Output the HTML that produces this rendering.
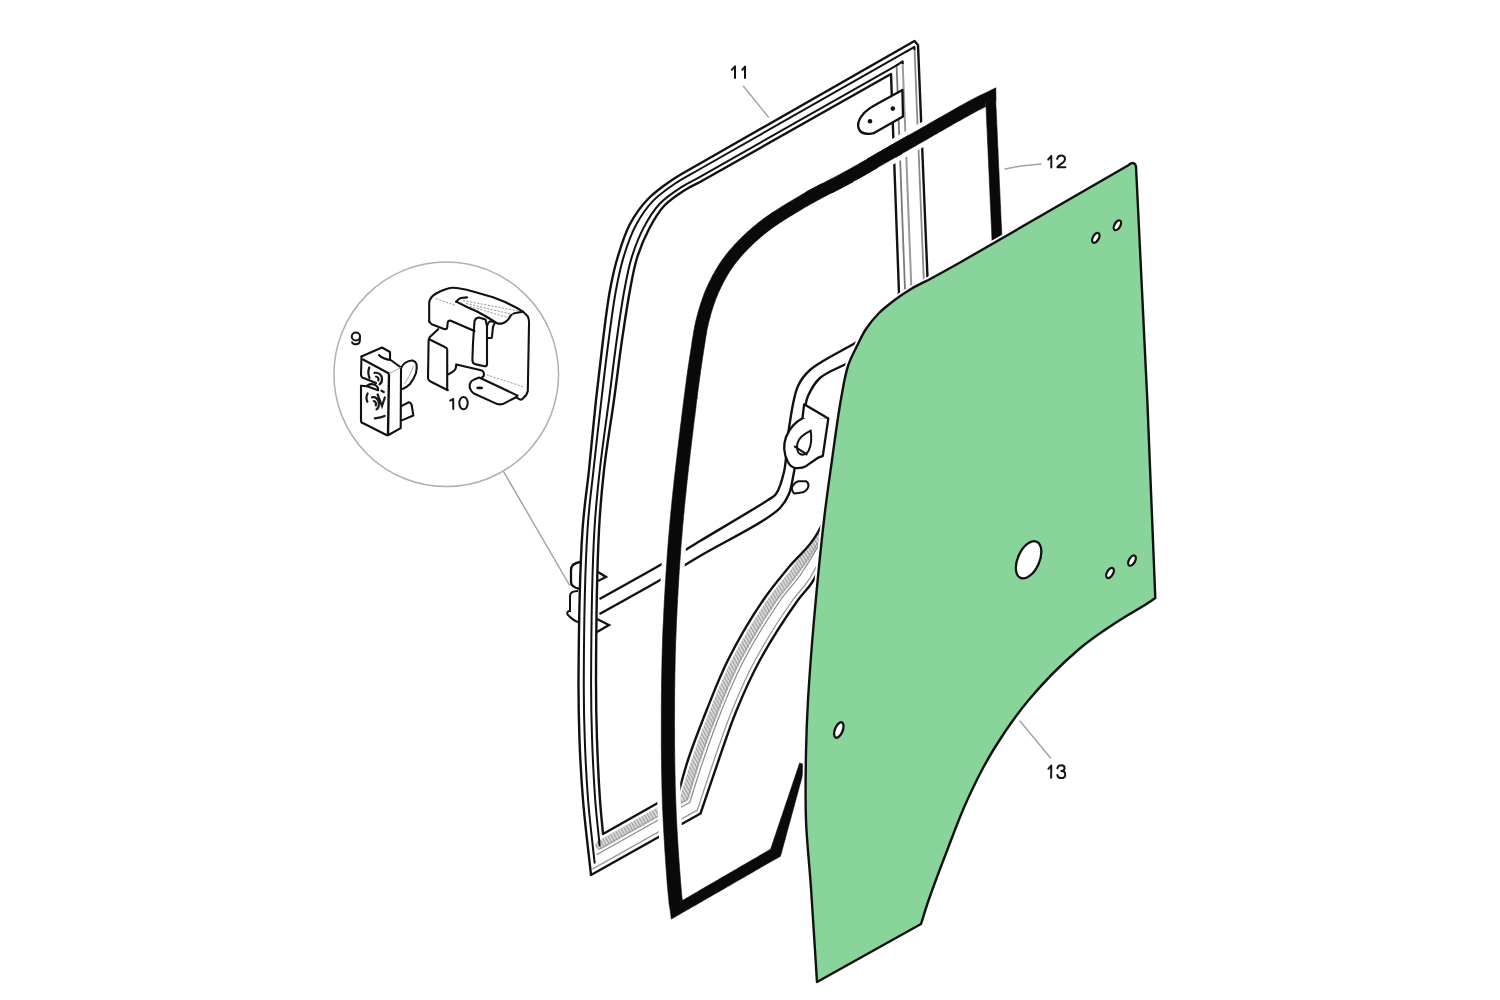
<!DOCTYPE html><html><head><meta charset="utf-8"><style>html,body{margin:0;padding:0;background:#fff;font-family:"Liberation Sans",sans-serif;}svg{display:block;}</style></head><body><svg width="1500" height="1000" viewBox="0 0 1500 1000"><defs><pattern id="hatch" patternUnits="userSpaceOnUse" width="3" height="3" patternTransform="rotate(-30)"><rect width="3" height="3" fill="#e2e2e2"/><rect width="1.3" height="3" fill="#9c9c9c"/></pattern></defs><rect width="1500" height="1000" fill="#fff"/><path d="M599.8,845.1 L684.8,797.1 C688.6,784.7 691.8,773.2 696.3,760 C701.6,744.5 708.1,726.6 714.8,710 C721.6,693.2 727.8,677.1 736.6,660 C746.7,640.6 761.6,616.2 772.7,600 C780.8,588.2 787.6,581.8 795.5,570.8 C805.1,557.4 816,544.1 825.9,524.8 C840.4,496.6 854.9,452.5 868.1,414.6 C881.9,375.1 893.9,333 906.8,292.2" fill="none" stroke="url(#hatch)" stroke-width="9" stroke-linejoin="round" stroke-linecap="round" /><path d="M598.4,849.6 L687.2,799.5 C691.3,786.4 694.9,773.9 699.7,760 C705.1,744.2 711.4,726.6 718.1,710 C724.9,693.2 731.2,677.1 740.2,660 C750.3,640.6 765.5,615.9 776.5,600 C784.3,588.7 790.6,583.2 798.1,572.3 C808,558.1 819.3,541.9 829.5,521.1 C843.9,492.1 858.2,449.8 871.4,412.4 C885.1,373.5 897.1,332 910,291.9" fill="none" stroke="#999" stroke-width="1.0" stroke-linejoin="round" stroke-linecap="round" /><path d="M597,854.5 L689.8,802.2 C694.3,788.2 698.3,774.6 703.4,760 C708.9,744 715,726.6 721.7,710 C728.5,693.2 735,677.1 744,660 C754.2,640.6 769.8,615.6 780.6,600 C788.1,589.3 793.8,584.7 801,574 C811.1,559 822.8,539.4 833.5,517 C847.6,487.3 861.9,446.8 875,410 C888.6,371.7 900.7,331 913.5,291.5" fill="none" stroke="#888" stroke-width="1.2" stroke-linejoin="round" stroke-linecap="round" /><path d="M592.8,868.9 L697.3,810.1 C702.9,793.4 708.3,776.7 714.1,760 C719.9,743.3 725.4,726.5 732.2,710 C739.1,693.2 745.9,677.1 755.2,660 C765.7,640.6 782.5,614.7 792.8,600 C799.2,591 803.4,588.5 809.4,578.9 C819.9,562.1 833.3,531.9 845,505.1 C858.7,474 872.6,438 885.5,403 C898.9,366.6 910.9,328 923.6,290.4" fill="none" stroke="#999" stroke-width="1.3" stroke-linejoin="round" stroke-linecap="round" /><path d="M924.2,290.4 L914.5,48.8" fill="none" stroke="#8a8a8a" stroke-width="1.8" stroke-linejoin="round" stroke-linecap="round" /><path d="M911.5,291.7 L902.6,61.5" fill="none" stroke="#9a9a9a" stroke-width="2.0" stroke-linejoin="round" stroke-linecap="round" /><path d="M905.1,292.4 L896.7,67.9" fill="none" stroke="#7a7a7a" stroke-width="1.8" stroke-linejoin="round" stroke-linecap="round" /><path d="M907.5,50.9 L700,169 C692,173.7 683.7,177.7 675.9,183 C667.9,188.4 659.5,194.1 652.8,201.1 C646.1,208.2 640.5,216.6 635.7,225.5 C630.7,235 627,245.9 623.7,256.6 C620.4,267.4 618.3,277.7 616,290 C613.2,304.9 611,322.6 608.7,340 C606.1,359.1 603.8,379.2 601.4,400 C598.8,422.4 595.9,447.6 593.5,470 C591.3,490.8 589,505.5 587.5,530 C585,568.7 583.9,641.3 583.8,680 C583.7,704.5 584,720 584.8,740 C585.5,760 586.5,779.8 588.1,800 C589.7,820.7 592.4,841.8 594.6,862.7" fill="none" stroke="#111" stroke-width="2.0" stroke-linejoin="round" stroke-linecap="round" /><path d="M897.6,64.8 L700,176.8 C693.8,180.3 687.7,183 681.4,187.2 C674.2,191.9 665.8,197.4 659.5,204 C653.2,210.8 648.2,219 643.7,227.6 C638.8,236.7 634.9,247.1 631.7,257.4 C628.4,267.9 626.7,277.9 624.4,290 C621.6,304.8 619.1,322.6 616.7,340 C614,359.1 611.7,379.2 609,400 C606,422.4 602.3,447.5 599.8,470 C597.5,490.7 595.8,505.5 594.4,530 C592.2,568.7 591.2,641.3 591.1,680 C591,704.5 591.4,720 592.1,740 C592.8,760 593.9,781.4 595.2,800 C596.4,816.2 598.2,830.3 599.6,845.5" fill="none" stroke="#111" stroke-width="2.0" stroke-linejoin="round" stroke-linecap="round" /><path d="M906,51.8 L914.4,46.8 L914.6,50 M896,65.8 L902.6,61.4 L902.8,64" fill="none" stroke="#111" stroke-width="2" stroke-linejoin="round"/><path d="M914.5,41 L700,163.5 C690.7,169 680.8,174 672,180 C663.5,185.8 655,191.7 648,199 C641,206.3 634.9,214.8 630,224 C624.8,233.7 621.3,245.1 618,256 C614.6,267.1 612.3,277.5 610,290 C607.2,305 605.2,322.6 603,340 C600.6,359.1 598.3,379.2 596,400 C593.6,422.4 591.3,447.6 589,470 C586.8,490.8 584.2,505.5 582.5,530 C579.9,568.7 578.7,641.3 578.5,680 C578.4,704.5 578.8,720 579.5,740 C580.2,760 581.3,778.9 583,800 C584.9,823.6 588.3,850 591,875 L700.5,813.5 C706.6,795.7 712.6,777.5 718.7,760 C724.6,743 729.9,726.5 736.7,710 C743.6,693.2 750.6,677.1 760,660 C770.6,640.6 787.9,614.2 798,600 C803.9,591.7 807.5,590 813,581 C823.5,563.8 837.8,528.6 850,500 C863.5,468.6 877.2,434.3 890,400 C903.3,364.4 915.3,326.7 928,290 L918,45 L914.5,41 Z" fill="none" stroke="#111" stroke-width="2.4" stroke-linejoin="round"/><path d="M891,74 L700,182 C695,184.7 690.3,186.6 685,190 C678.4,194.2 670,199.6 664,206 C657.9,212.5 653.4,220.7 649,229 C644.3,237.9 640.2,248 637,258 C633.8,268.3 632.2,278.1 630,290 C627.2,304.8 624.6,322.6 622,340 C619.2,359.1 616.9,379.2 614,400 C610.9,422.4 606.5,447.5 604,470 C601.7,490.7 600.3,505.5 599,530 C597,568.7 596.1,641.3 596,680 C596,704.5 596.3,720 597,740 C597.7,760 598.8,782.8 600,800 C600.9,812.9 602,822.7 603,834 L679,791 C682,780.7 684.2,771.5 688,760 C692.9,745.2 700.1,726.6 706.7,710 C713.4,693.3 719.4,677.1 728,660 C737.8,640.6 751.9,616.7 763.3,600 C772.1,587 780.1,577.9 789,567 C798,555.9 808,549.3 817,534 C832.2,508.2 846.6,459.2 860,420 C874,379 886,335.3 899,293 L891,74 L891,74 Z" fill="none" stroke="#111" stroke-width="2.4" stroke-linejoin="round"/><path d="M599.5,599 C620.3,587.3 643.8,574.6 662,564 C676.3,555.7 685.5,549.8 700,541 C719.4,529.3 756.5,507.7 768,500 C772.1,497.3 773.7,497.1 776,494 C779.5,489.3 781.9,480.7 784,472 C786.8,460 786.6,442.4 789,428 C791.3,413.8 793.3,396.3 798,386 C801.2,379 803.9,375.5 810,370 C820,361 841.3,351.3 857,342" fill="none" stroke="#111" stroke-width="2.4"/><path d="M599.5,614 C620.3,602.3 643.8,589.6 662,579 C676.3,570.7 685.6,564.4 700,556 C718.5,545.2 750,529.2 764,520 C771.3,515.2 775.7,512.6 780,508 C783.9,503.8 786.7,499.4 789,494 C791.6,487.7 792.1,481.3 794,472 C797.1,456.3 802.3,420.9 805,408 C806.2,402.4 806.1,400.2 808,396 C810.5,390.4 814.3,383.2 820,378 C826.9,371.8 838.7,368 848,363" fill="none" stroke="#111" stroke-width="2.4"/><path d="M803,418 C797,421 790,427 786,437 C783.5,444 783.5,453 787.6,461.5 C790,466 794,468.5 797.5,468.1 C801,468 803.5,467.5 806.3,465.9 L817.3,458.2 C819,457 821,456.5 822.8,456 L828.3,418.6 C826,417.3 824,417.2 821.7,417.2 L809.6,416.4 C807,416.4 805,417 803,418 Z" fill="#fff" stroke="#111" stroke-width="2.3" stroke-linejoin="round"/><path d="M802.5,418 L804.1,404.3 L828.3,418.6" fill="#fff" stroke="#111" stroke-width="2.3" stroke-linejoin="round"/><path d="M810.7,430.7 C806,433 799,438 797.5,443 C796.5,448 797,452 800,454 C803,455.5 806.5,454.5 808.5,451 C811,446 812,439 810.7,430.7 Z M794.2,446.1 L807.4,454.9" fill="none" stroke="#111" stroke-width="2"/><path d="M792,486.8 C794,484 796,481.5 798.6,481.3 L806.3,481.3 C807.5,482 808.5,483.5 808.5,485.7 C808,488.5 806,491 803,492.3 L795,493.4 C792.5,493 791.5,489 792,486.8 Z" fill="#fff" stroke="#111" stroke-width="2"/><path d="M902.4,90 L876,104.4 C869,108 861,114 858.5,122 C857,128 860,133 865,133.5 C868,134 871,134 873.6,133.2 L903,116.4 Z" fill="#fff" stroke="#111" stroke-width="2.3" stroke-linejoin="round"/><circle cx="870" cy="121.2" r="2.3" fill="#111"/><circle cx="892.8" cy="108.6" r="2.3" fill="#111"/><path d="M580,562 C574,563 571,566 571,570 L571,582 C571,586 575,588 580,589" fill="none" stroke="#111" stroke-width="2.3"/><path d="M578,591 C573,591 570,593 570,596 L570,611 C567,611 566,614 569,616 C572,619 574,621 578,622" fill="none" stroke="#111" stroke-width="2"/><path d="M598,572 L606,577 L598,581" fill="none" stroke="#111" stroke-width="2.3"/><path d="M597,619 L609,625 L597,632" fill="none" stroke="#111" stroke-width="2.3"/><path d="M1002.5,249.8 L1002.4,247.3 L1002.3,244.8 L1002.2,242.3 L1002.0,239.8 L1001.9,237.3 L1001.8,234.9 L1001.7,232.4 L1001.6,229.9 L1001.5,227.5 L1001.4,225.0 L1001.2,222.5 L1001.1,220.1 L1001.0,217.6 L1000.9,215.1 L1000.8,212.7 L1000.7,210.2 L1000.6,207.7 L1000.5,205.2 L1000.3,202.7 L1000.2,200.2 L1000.1,197.7 L1000.0,195.2 L999.9,192.6 L999.8,190.1 L999.6,187.5 L999.5,185.0 L999.4,182.4 L999.3,179.8 L999.2,177.4 L999.1,174.9 L999.0,172.5 L998.9,170.1 L998.7,167.6 L998.6,165.2 L998.5,162.7 L998.4,160.2 L998.3,157.7 L998.2,155.2 L998.1,152.7 L998.0,150.2 L997.9,147.7 L997.7,145.2 L997.6,142.7 L997.5,140.1 L997.4,137.6 L997.3,135.1 L997.2,132.5 L997.1,130.0 L997.0,127.4 L996.8,124.9 L996.7,122.4 L996.6,119.8 L996.5,117.3 L996.4,114.7 L996.3,112.2 L996.2,109.7 L996.0,107.1 L995.9,104.6 L995.8,102.1 L996.0,99.6 L995.8,87.8 L985.4,92.9 L983.1,94.0 L980.8,95.1 L978.3,96.3 L975.4,97.7 L972.1,99.5 L970.6,100.3 L969.1,101.1 L967.4,102.0 L965.7,102.9 L963.9,103.9 L962.1,104.9 L960.1,106.0 L958.1,107.1 L956.1,108.3 L953.9,109.5 L951.8,110.7 L949.6,112.0 L947.3,113.3 L945.0,114.6 L942.6,115.9 L940.3,117.3 L937.9,118.6 L935.4,120.0 L933.0,121.4 L930.5,122.8 L928.1,124.2 L925.6,125.7 L923.1,127.1 L920.6,128.5 L918.2,129.9 L915.7,131.3 L913.3,132.7 L910.8,134.1 L908.4,135.5 L906.1,136.9 L903.7,138.2 L901.4,139.5 L899.1,140.8 L896.7,142.2 L893.3,144.1 L890.8,145.5 L888.3,147.0 L885.5,148.6 L882.4,150.4 L878.0,152.9 L867.1,159.2 L908.6,135.3 L884.6,149.1 L879.3,152.1 L875.9,154.1 L873.1,155.7 L870.5,157.2 L868.0,158.6 L865.6,160.0 L863.3,161.3 L861.0,162.6 L858.7,163.9 L856.5,165.2 L854.2,166.4 L852.0,167.7 L849.8,168.9 L847.3,170.3 L845.0,171.6 L842.7,172.8 L840.5,174.0 L838.3,175.2 L836.1,176.4 L834.0,177.5 L832.0,178.5 L830.9,179.1 L805.4,192.4 L822.2,183.6 L820.7,184.4 L818.7,185.4 L816.6,186.6 L814.4,187.7 L812.1,188.9 L809.9,190.1 L807.6,191.4 L805.4,192.6 L803.2,193.8 L801.0,195.1 L798.8,196.4 L796.5,197.7 L794.5,198.9 L790.8,201.2 L789.3,202.1 L787.3,203.2 L785.2,204.5 L783.1,205.8 L780.9,207.2 L778.8,208.5 L776.6,209.9 L774.5,211.2 L772.3,212.6 L770.2,214.1 L768.1,215.5 L766.0,217.0 L763.9,218.4 L761.9,220.0 L759.9,221.5 L757.9,223.1 L755.9,224.7 L753.8,226.4 L751.8,228.1 L749.8,229.9 L747.8,231.6 L745.9,233.4 L743.9,235.2 L742.0,237.1 L740.2,238.9 L738.3,240.8 L736.5,242.7 L734.7,244.6 L733.0,246.5 L731.3,248.4 L729.6,250.3 L728.0,252.3 L726.4,254.2 L724.9,256.2 L723.2,258.5 L721.5,260.9 L719.9,263.3 L718.3,265.7 L716.9,268.1 L715.4,270.5 L714.1,272.9 L712.7,275.3 L711.5,277.8 L710.3,280.2 L709.1,282.6 L707.9,285.1 L706.8,287.5 L705.7,290.0 L704.6,292.6 L703.6,295.2 L702.7,297.8 L701.8,300.4 L700.9,303.0 L700.1,305.6 L699.3,308.2 L698.5,310.8 L697.8,313.4 L697.1,316.0 L696.5,318.5 L695.8,321.1 L695.3,323.6 L694.7,326.1 L694.3,328.6 L693.8,331.1 L693.4,333.6 L693.0,336.2 L692.5,338.9 L691.9,342.6 L692.0,342.4 L691.5,345.8 L691.2,347.7 L690.5,351.9 L690.2,354.1 L689.8,356.3 L689.5,358.6 L689.1,360.9 L688.8,363.2 L688.4,365.5 L688.1,367.9 L687.7,370.3 L687.4,372.8 L687.0,375.3 L686.7,377.9 L686.3,380.5 L686.0,383.2 L685.6,386.0 L685.2,388.8 L684.9,391.7 L684.5,394.6 L684.1,397.7 L683.6,401.6 L683.0,406.4 L682.8,408.2 L682.5,410.1 L682.3,412.0 L682.0,414.0 L681.8,416.0 L681.5,418.1 L681.3,420.2 L681.0,422.4 L680.7,424.7 L680.4,426.9 L680.1,429.2 L679.9,431.6 L679.6,433.9 L679.3,436.3 L679.0,438.8 L678.7,441.2 L678.4,443.7 L678.1,446.2 L677.8,448.7 L677.5,451.2 L677.2,453.8 L676.9,456.4 L676.6,458.9 L676.3,461.5 L676.0,464.1 L675.7,466.8 L675.4,469.4 L675.1,472.0 L674.8,474.6 L674.5,477.2 L674.2,479.9 L673.9,482.5 L673.7,485.1 L673.4,487.7 L673.1,490.3 L672.8,492.9 L672.6,495.5 L672.3,498.0 L672.0,500.6 L671.8,503.1 L671.5,505.6 L671.3,508.1 L671.0,510.6 L670.8,513.0 L670.6,515.5 L670.3,517.9 L670.1,520.4 L669.9,523.1 L669.6,525.8 L669.4,528.4 L669.2,531.0 L669.0,533.6 L668.7,536.2 L668.5,538.8 L668.3,541.4 L668.1,544.0 L667.9,546.6 L667.7,549.2 L667.5,551.7 L667.3,554.3 L667.1,556.9 L667.0,559.4 L666.8,562.0 L666.6,564.5 L666.4,567.1 L666.3,569.6 L666.1,572.1 L665.9,574.7 L665.8,577.2 L665.6,579.7 L665.4,582.2 L665.3,584.7 L665.1,587.2 L665.0,589.7 L664.9,592.1 L664.7,594.6 L664.6,597.1 L664.4,599.5 L664.3,602.0 L664.2,604.4 L664.1,606.9 L663.9,609.3 L663.8,611.7 L663.7,614.1 L663.6,616.5 L663.5,618.9 L663.4,621.0 L663.3,623.4 L663.1,626.0 L663.0,628.6 L662.9,631.1 L662.8,633.7 L662.7,636.2 L662.6,638.7 L662.5,641.2 L662.5,643.7 L662.4,646.2 L662.3,648.7 L662.2,651.1 L662.2,653.6 L662.1,656.0 L662.0,658.5 L662.0,660.9 L661.9,663.4 L661.9,665.9 L661.8,668.3 L661.8,670.8 L661.7,673.3 L661.7,675.8 L661.6,678.3 L661.6,680.9 L661.5,683.4 L661.5,686.0 L661.5,688.6 L661.5,691.2 L661.4,693.9 L661.4,696.5 L661.4,699.3 L661.4,702.0 L661.3,704.4 L661.3,706.8 L661.3,709.2 L661.3,711.6 L661.3,714.0 L661.3,716.4 L661.3,718.9 L661.3,721.4 L661.3,723.8 L661.3,726.3 L661.3,728.8 L661.3,731.3 L661.3,733.8 L661.3,736.4 L661.3,738.9 L661.3,741.4 L661.3,743.9 L661.3,746.5 L661.3,749.0 L661.4,751.6 L661.4,754.1 L661.4,756.6 L661.4,759.2 L661.5,761.7 L661.5,764.2 L661.5,766.8 L661.6,769.3 L661.6,771.8 L661.7,774.3 L661.7,776.8 L661.8,779.3 L661.8,781.8 L661.9,784.2 L661.9,786.7 L662.0,789.1 L662.1,791.5 L662.1,793.9 L662.2,796.3 L662.3,798.7 L662.3,800.9 L662.4,803.5 L662.5,806.2 L662.6,809.0 L662.8,811.7 L662.9,814.5 L663.0,817.2 L663.1,820.0 L663.3,822.7 L663.4,825.5 L663.6,828.3 L663.7,831.0 L663.9,833.8 L664.0,836.5 L664.2,839.2 L664.4,841.9 L664.5,844.6 L664.7,847.3 L664.8,849.9 L665.0,852.5 L665.2,855.1 L665.4,857.6 L665.5,860.1 L665.7,862.6 L665.9,865.0 L666.0,867.4 L666.2,869.8 L666.4,872.1 L666.5,874.3 L666.7,876.5 L666.8,878.7 L667.0,880.7 L667.0,881.1 L667.2,883.9 L667.5,886.7 L667.7,889.5 L668.0,892.1 L668.2,894.7 L668.5,897.3 L668.8,900.3 L668.9,901.2 L668.9,902.1 L669.2,905.1 L669.9,908.2 L671.3,919.1 L681.3,913.3 L683.5,912.0 L685.7,910.7 L687.9,909.5 L690.1,908.2 L692.3,906.9 L694.5,905.7 L696.8,904.4 L699.0,903.1 L701.2,901.9 L703.4,900.6 L705.6,899.3 L707.8,898.1 L710.0,896.8 L712.2,895.5 L714.4,894.2 L716.6,893.0 L718.8,891.7 L721.0,890.4 L723.2,889.2 L725.4,887.9 L727.6,886.6 L729.8,885.4 L732.0,884.1 L734.2,882.8 L736.4,881.6 L738.6,880.3 L740.8,879.0 L743.0,877.8 L745.2,876.5 L747.4,875.2 L749.6,874.0 L751.8,872.7 L754.0,871.4 L756.2,870.1 L758.4,868.9 L760.6,867.6 L762.8,866.3 L765.0,865.1 L767.2,863.8 L769.4,862.5 L771.6,861.3 L773.8,860.0 L776.1,858.8 L780.3,856.4 L781.7,852.0 L782.3,849.5 L783.0,847.1 L783.6,844.7 L784.3,842.3 L785.0,839.9 L785.6,837.4 L786.3,835.0 L786.9,832.6 L787.6,830.2 L788.2,827.8 L788.9,825.3 L789.6,822.9 L790.2,820.5 L790.9,818.1 L791.5,815.7 L792.2,813.3 L792.9,810.8 L793.5,808.4 L794.2,806.0 L794.8,803.6 L795.5,801.2 L796.1,798.7 L796.8,796.3 L797.5,793.9 L798.1,791.5 L798.8,789.1 L799.4,786.6 L800.1,784.2 L800.8,781.8 L801.4,779.4 L802.1,777.0 L802.7,774.5 L803.4,772.1 L804.1,769.7 L804.7,767.3 L805.4,764.9 L799.6,763.1 L798.8,765.5 L798.0,767.9 L797.2,770.3 L796.4,772.6 L795.6,775.0 L794.8,777.4 L794.0,779.8 L793.2,782.1 L792.4,784.5 L791.6,786.9 L790.8,789.3 L790.0,791.6 L789.2,794.0 L788.4,796.4 L787.6,798.8 L786.8,801.1 L786.0,803.5 L785.2,805.9 L784.4,808.3 L783.6,810.6 L782.8,813.0 L782.0,815.4 L781.2,817.8 L780.4,820.1 L779.6,822.5 L778.8,824.9 L778.0,827.3 L777.2,829.6 L776.4,832.0 L775.6,834.4 L774.8,836.8 L774.0,839.1 L773.2,841.5 L772.4,843.9 L771.6,846.3 L770.8,848.6 L770.7,849.0 L770.5,849.2 L768.4,850.5 L766.2,851.8 L764.0,853.1 L761.8,854.3 L759.6,855.6 L757.4,856.9 L755.2,858.2 L753.0,859.4 L750.8,860.7 L748.6,862.0 L746.4,863.3 L744.2,864.6 L742.0,865.8 L739.8,867.1 L737.6,868.4 L735.4,869.7 L733.2,870.9 L731.0,872.2 L728.8,873.5 L726.6,874.8 L724.4,876.1 L722.2,877.3 L720.0,878.6 L717.8,879.9 L715.6,881.2 L713.4,882.4 L711.2,883.7 L709.0,885.0 L706.8,886.3 L704.6,887.6 L702.4,888.8 L700.2,890.1 L698.0,891.4 L695.8,892.7 L693.6,894.0 L691.4,895.2 L689.3,896.5 L687.1,897.8 L684.9,899.1 L682.7,900.3 L680.5,901.6 L678.3,902.9 L676.1,904.2 L681.7,900.9 L682.6,906.9 L682.8,905.2 L682.7,903.6 L682.3,899.9 L681.9,896.2 L681.7,894.5 L681.5,892.4 L681.3,890.0 L681.1,887.6 L680.9,884.9 L680.6,882.1 L680.4,878.9 L680.1,875.4 L680.0,873.5 L679.8,871.5 L679.7,869.5 L679.5,867.4 L679.4,865.2 L679.2,863.0 L679.0,860.8 L678.9,858.5 L678.7,856.2 L678.6,853.8 L678.4,851.3 L678.2,848.9 L678.1,846.4 L677.9,843.9 L677.8,841.3 L677.6,838.8 L677.4,836.2 L677.3,833.6 L677.1,830.9 L677.0,828.3 L676.8,825.6 L676.7,823.0 L676.6,820.3 L676.4,817.7 L676.3,815.0 L676.2,812.3 L676.1,809.7 L676.0,807.0 L675.9,804.4 L675.8,801.8 L675.7,799.1 L675.6,796.6 L675.5,794.2 L675.4,791.7 L675.4,789.3 L675.3,786.8 L675.2,784.3 L675.2,781.8 L675.1,779.3 L675.1,776.8 L675.0,774.3 L675.0,771.7 L674.9,769.1 L674.9,766.6 L674.8,764.0 L674.8,761.4 L674.8,758.8 L674.7,756.2 L674.7,753.6 L674.7,751.0 L674.7,748.4 L674.6,745.8 L674.6,743.2 L674.6,740.6 L674.6,738.1 L674.6,735.5 L674.6,732.9 L674.6,730.3 L674.6,727.7 L674.5,725.2 L674.5,722.6 L674.5,720.1 L674.6,717.6 L674.6,715.1 L674.6,712.6 L674.6,710.1 L674.6,707.6 L674.6,705.2 L674.6,702.7 L674.6,700.3 L674.6,698.0 L674.7,695.5 L674.7,693.0 L674.7,690.5 L674.7,688.1 L674.8,685.6 L674.8,683.2 L674.8,680.7 L674.9,678.3 L674.9,675.9 L674.9,673.5 L675.0,671.1 L675.0,668.6 L675.1,666.2 L675.1,663.8 L675.2,661.4 L675.2,659.0 L675.3,656.6 L675.3,654.2 L675.4,651.8 L675.5,649.4 L675.6,647.0 L675.6,644.5 L675.7,642.1 L675.8,639.6 L675.9,637.1 L676.0,634.6 L676.1,632.1 L676.2,629.6 L676.3,627.0 L676.4,624.4 L676.5,621.8 L676.6,619.0 L676.8,616.3 L676.9,614.0 L677.0,611.6 L677.1,609.3 L677.2,606.9 L677.3,604.5 L677.5,602.1 L677.6,599.7 L677.7,597.3 L677.9,594.9 L678.0,592.5 L678.1,590.0 L678.3,587.6 L678.4,585.2 L678.6,582.7 L678.7,580.3 L678.9,577.8 L679.0,575.3 L679.2,572.8 L679.3,570.4 L679.5,567.9 L679.7,565.4 L679.8,562.9 L680.0,560.4 L680.2,557.8 L680.4,555.3 L680.6,552.8 L680.8,550.3 L680.9,547.7 L681.1,545.2 L681.3,542.6 L681.5,540.1 L681.8,537.5 L682.0,535.0 L682.2,532.4 L682.4,529.8 L682.6,527.2 L682.8,524.7 L683.1,522.1 L683.3,519.6 L683.5,517.3 L683.7,514.9 L684.0,512.4 L684.2,509.8 L684.4,507.3 L684.7,504.7 L685.0,502.1 L685.2,499.5 L685.5,496.8 L685.8,494.2 L686.1,491.5 L686.3,488.8 L686.6,486.1 L686.9,483.4 L687.2,480.6 L687.5,477.9 L687.8,475.2 L688.1,472.4 L688.4,469.7 L688.7,466.9 L689.1,464.2 L689.4,461.4 L689.7,458.7 L690.0,455.9 L690.3,453.2 L690.6,450.5 L691.0,447.7 L691.3,445.0 L691.6,442.3 L691.9,439.7 L692.2,437.0 L692.6,434.4 L692.9,431.7 L693.2,429.1 L693.5,426.5 L693.8,424.0 L694.1,421.5 L694.4,418.9 L694.8,416.5 L695.1,414.0 L695.4,411.6 L695.7,409.2 L696.0,406.8 L696.2,404.5 L696.5,402.1 L696.8,399.8 L697.1,397.6 L697.0,398.4 L697.3,396.3 L697.6,393.5 L698.0,390.7 L698.3,388.0 L698.7,385.4 L699.0,382.8 L699.4,380.2 L699.7,377.7 L700.1,375.3 L700.4,372.9 L700.7,370.5 L701.1,368.2 L701.4,365.8 L701.7,363.6 L702.1,361.3 L702.4,359.1 L702.7,356.9 L703.1,354.7 L703.4,352.5 L703.4,352.3 L704.0,348.7 L704.3,346.7 L705.2,341.2 L705.4,339.9 L705.7,337.7 L706.1,335.4 L706.5,333.0 L706.9,330.7 L707.3,328.5 L707.8,326.2 L708.4,323.8 L708.9,321.5 L709.6,318.9 L710.3,316.5 L710.9,314.0 L711.6,311.6 L712.4,309.2 L713.1,306.8 L713.9,304.4 L714.8,302.0 L715.7,299.6 L716.6,297.2 L717.5,294.9 L718.6,292.5 L719.6,290.2 L720.7,287.9 L721.8,285.7 L722.9,283.4 L724.1,281.2 L725.3,278.9 L726.6,276.7 L727.9,274.5 L729.2,272.3 L730.6,270.2 L732.0,268.0 L733.5,265.9 L735.1,263.8 L736.5,262.0 L738.0,260.2 L739.4,258.4 L741.0,256.6 L742.6,254.8 L744.2,253.0 L745.9,251.3 L747.6,249.5 L749.3,247.7 L751.1,246.0 L752.9,244.3 L754.7,242.6 L756.5,240.9 L758.4,239.2 L760.3,237.5 L762.2,235.9 L764.1,234.3 L765.9,232.9 L767.8,231.4 L769.7,230.0 L771.6,228.6 L773.5,227.2 L775.5,225.8 L777.5,224.4 L779.6,223.0 L781.7,221.7 L783.8,220.3 L785.9,219.0 L788.1,217.6 L790.3,216.3 L792.5,214.9 L794.8,213.5 L797.3,212.0 L800.3,210.2 L801.0,209.8 L803.5,208.3 L805.5,207.1 L807.6,205.9 L809.8,204.6 L812.0,203.4 L814.2,202.2 L816.4,200.9 L818.7,199.7 L821.0,198.5 L823.4,197.2 L825.9,195.9 L828.5,194.5 L831.7,192.9 L853.1,181.7 L832.2,192.6 L835.7,190.8 L838.4,189.3 L840.9,188.0 L843.4,186.7 L845.8,185.5 L848.1,184.2 L850.5,182.9 L852.7,181.7 L854.6,180.7 L856.7,179.5 L858.8,178.3 L860.9,177.1 L863.0,175.9 L865.1,174.7 L867.2,173.5 L869.2,172.4 L871.2,171.3 L873.1,170.2 L874.8,169.2 L876.3,168.3 L877.2,167.8 L876.3,168.3 L856.6,179.6 L902.5,153.3 L895.9,157.0 L895.9,157.1 L897.1,156.4 L898.7,155.5 L900.5,154.4 L902.4,153.3 L903.3,152.8 L905.3,151.7 L907.6,150.4 L909.9,149.1 L912.3,147.7 L914.6,146.4 L917.1,145.0 L919.5,143.6 L921.9,142.2 L924.4,140.8 L926.9,139.4 L929.3,137.9 L931.8,136.5 L934.3,135.1 L936.8,133.7 L939.2,132.3 L941.7,130.9 L944.1,129.5 L946.5,128.1 L948.8,126.8 L951.2,125.4 L953.5,124.1 L955.7,122.8 L957.9,121.6 L960.1,120.4 L962.2,119.2 L964.2,118.0 L966.2,116.9 L968.1,115.9 L970.0,114.8 L971.7,113.9 L973.4,113.0 L975.0,112.1 L976.5,111.3 L977.9,110.5 L981.1,108.9 L983.8,107.5 L986.2,106.3 L988.5,105.2 L990.8,104.1 L985.4,106.8 L985.4,100.0 L985.8,102.5 L985.9,105.1 L986.1,107.6 L986.2,110.1 L986.3,112.7 L986.4,115.2 L986.5,117.7 L986.6,120.3 L986.7,122.8 L986.8,125.3 L987.0,127.9 L987.1,130.4 L987.2,133.0 L987.3,135.5 L987.4,138.0 L987.5,140.6 L987.6,143.1 L987.8,145.6 L987.9,148.1 L988.0,150.7 L988.1,153.2 L988.2,155.7 L988.3,158.2 L988.4,160.7 L988.5,163.1 L988.6,165.6 L988.8,168.1 L988.9,170.5 L989.0,173.0 L989.1,175.4 L989.2,177.8 L989.3,180.2 L989.4,182.8 L989.5,185.4 L989.7,188.0 L989.8,190.5 L989.9,193.1 L990.0,195.6 L990.1,198.1 L990.2,200.7 L990.3,203.2 L990.5,205.7 L990.6,208.2 L990.7,210.6 L990.8,213.1 L990.9,215.6 L991.0,218.1 L991.1,220.5 L991.3,223.0 L991.4,225.5 L991.5,227.9 L991.6,230.4 L991.7,232.9 L991.8,235.3 L991.9,237.8 L992.0,240.3 L992.2,242.8 L992.3,245.2 L992.4,247.7 L992.5,250.2 Z" fill="#fff" stroke="#fff" stroke-width="10" stroke-linejoin="round"/><path d="M1002.5,249.8 L1002.4,247.3 L1002.3,244.8 L1002.2,242.3 L1002.0,239.8 L1001.9,237.3 L1001.8,234.9 L1001.7,232.4 L1001.6,229.9 L1001.5,227.5 L1001.4,225.0 L1001.2,222.5 L1001.1,220.1 L1001.0,217.6 L1000.9,215.1 L1000.8,212.7 L1000.7,210.2 L1000.6,207.7 L1000.5,205.2 L1000.3,202.7 L1000.2,200.2 L1000.1,197.7 L1000.0,195.2 L999.9,192.6 L999.8,190.1 L999.6,187.5 L999.5,185.0 L999.4,182.4 L999.3,179.8 L999.2,177.4 L999.1,174.9 L999.0,172.5 L998.9,170.1 L998.7,167.6 L998.6,165.2 L998.5,162.7 L998.4,160.2 L998.3,157.7 L998.2,155.2 L998.1,152.7 L998.0,150.2 L997.9,147.7 L997.7,145.2 L997.6,142.7 L997.5,140.1 L997.4,137.6 L997.3,135.1 L997.2,132.5 L997.1,130.0 L997.0,127.4 L996.8,124.9 L996.7,122.4 L996.6,119.8 L996.5,117.3 L996.4,114.7 L996.3,112.2 L996.2,109.7 L996.0,107.1 L995.9,104.6 L995.8,102.1 L996.0,99.6 L995.8,87.8 L985.4,92.9 L983.1,94.0 L980.8,95.1 L978.3,96.3 L975.4,97.7 L972.1,99.5 L970.6,100.3 L969.1,101.1 L967.4,102.0 L965.7,102.9 L963.9,103.9 L962.1,104.9 L960.1,106.0 L958.1,107.1 L956.1,108.3 L953.9,109.5 L951.8,110.7 L949.6,112.0 L947.3,113.3 L945.0,114.6 L942.6,115.9 L940.3,117.3 L937.9,118.6 L935.4,120.0 L933.0,121.4 L930.5,122.8 L928.1,124.2 L925.6,125.7 L923.1,127.1 L920.6,128.5 L918.2,129.9 L915.7,131.3 L913.3,132.7 L910.8,134.1 L908.4,135.5 L906.1,136.9 L903.7,138.2 L901.4,139.5 L899.1,140.8 L896.7,142.2 L893.3,144.1 L890.8,145.5 L888.3,147.0 L885.5,148.6 L882.4,150.4 L878.0,152.9 L867.1,159.2 L908.6,135.3 L884.6,149.1 L879.3,152.1 L875.9,154.1 L873.1,155.7 L870.5,157.2 L868.0,158.6 L865.6,160.0 L863.3,161.3 L861.0,162.6 L858.7,163.9 L856.5,165.2 L854.2,166.4 L852.0,167.7 L849.8,168.9 L847.3,170.3 L845.0,171.6 L842.7,172.8 L840.5,174.0 L838.3,175.2 L836.1,176.4 L834.0,177.5 L832.0,178.5 L830.9,179.1 L805.4,192.4 L822.2,183.6 L820.7,184.4 L818.7,185.4 L816.6,186.6 L814.4,187.7 L812.1,188.9 L809.9,190.1 L807.6,191.4 L805.4,192.6 L803.2,193.8 L801.0,195.1 L798.8,196.4 L796.5,197.7 L794.5,198.9 L790.8,201.2 L789.3,202.1 L787.3,203.2 L785.2,204.5 L783.1,205.8 L780.9,207.2 L778.8,208.5 L776.6,209.9 L774.5,211.2 L772.3,212.6 L770.2,214.1 L768.1,215.5 L766.0,217.0 L763.9,218.4 L761.9,220.0 L759.9,221.5 L757.9,223.1 L755.9,224.7 L753.8,226.4 L751.8,228.1 L749.8,229.9 L747.8,231.6 L745.9,233.4 L743.9,235.2 L742.0,237.1 L740.2,238.9 L738.3,240.8 L736.5,242.7 L734.7,244.6 L733.0,246.5 L731.3,248.4 L729.6,250.3 L728.0,252.3 L726.4,254.2 L724.9,256.2 L723.2,258.5 L721.5,260.9 L719.9,263.3 L718.3,265.7 L716.9,268.1 L715.4,270.5 L714.1,272.9 L712.7,275.3 L711.5,277.8 L710.3,280.2 L709.1,282.6 L707.9,285.1 L706.8,287.5 L705.7,290.0 L704.6,292.6 L703.6,295.2 L702.7,297.8 L701.8,300.4 L700.9,303.0 L700.1,305.6 L699.3,308.2 L698.5,310.8 L697.8,313.4 L697.1,316.0 L696.5,318.5 L695.8,321.1 L695.3,323.6 L694.7,326.1 L694.3,328.6 L693.8,331.1 L693.4,333.6 L693.0,336.2 L692.5,338.9 L691.9,342.6 L692.0,342.4 L691.5,345.8 L691.2,347.7 L690.5,351.9 L690.2,354.1 L689.8,356.3 L689.5,358.6 L689.1,360.9 L688.8,363.2 L688.4,365.5 L688.1,367.9 L687.7,370.3 L687.4,372.8 L687.0,375.3 L686.7,377.9 L686.3,380.5 L686.0,383.2 L685.6,386.0 L685.2,388.8 L684.9,391.7 L684.5,394.6 L684.1,397.7 L683.6,401.6 L683.0,406.4 L682.8,408.2 L682.5,410.1 L682.3,412.0 L682.0,414.0 L681.8,416.0 L681.5,418.1 L681.3,420.2 L681.0,422.4 L680.7,424.7 L680.4,426.9 L680.1,429.2 L679.9,431.6 L679.6,433.9 L679.3,436.3 L679.0,438.8 L678.7,441.2 L678.4,443.7 L678.1,446.2 L677.8,448.7 L677.5,451.2 L677.2,453.8 L676.9,456.4 L676.6,458.9 L676.3,461.5 L676.0,464.1 L675.7,466.8 L675.4,469.4 L675.1,472.0 L674.8,474.6 L674.5,477.2 L674.2,479.9 L673.9,482.5 L673.7,485.1 L673.4,487.7 L673.1,490.3 L672.8,492.9 L672.6,495.5 L672.3,498.0 L672.0,500.6 L671.8,503.1 L671.5,505.6 L671.3,508.1 L671.0,510.6 L670.8,513.0 L670.6,515.5 L670.3,517.9 L670.1,520.4 L669.9,523.1 L669.6,525.8 L669.4,528.4 L669.2,531.0 L669.0,533.6 L668.7,536.2 L668.5,538.8 L668.3,541.4 L668.1,544.0 L667.9,546.6 L667.7,549.2 L667.5,551.7 L667.3,554.3 L667.1,556.9 L667.0,559.4 L666.8,562.0 L666.6,564.5 L666.4,567.1 L666.3,569.6 L666.1,572.1 L665.9,574.7 L665.8,577.2 L665.6,579.7 L665.4,582.2 L665.3,584.7 L665.1,587.2 L665.0,589.7 L664.9,592.1 L664.7,594.6 L664.6,597.1 L664.4,599.5 L664.3,602.0 L664.2,604.4 L664.1,606.9 L663.9,609.3 L663.8,611.7 L663.7,614.1 L663.6,616.5 L663.5,618.9 L663.4,621.0 L663.3,623.4 L663.1,626.0 L663.0,628.6 L662.9,631.1 L662.8,633.7 L662.7,636.2 L662.6,638.7 L662.5,641.2 L662.5,643.7 L662.4,646.2 L662.3,648.7 L662.2,651.1 L662.2,653.6 L662.1,656.0 L662.0,658.5 L662.0,660.9 L661.9,663.4 L661.9,665.9 L661.8,668.3 L661.8,670.8 L661.7,673.3 L661.7,675.8 L661.6,678.3 L661.6,680.9 L661.5,683.4 L661.5,686.0 L661.5,688.6 L661.5,691.2 L661.4,693.9 L661.4,696.5 L661.4,699.3 L661.4,702.0 L661.3,704.4 L661.3,706.8 L661.3,709.2 L661.3,711.6 L661.3,714.0 L661.3,716.4 L661.3,718.9 L661.3,721.4 L661.3,723.8 L661.3,726.3 L661.3,728.8 L661.3,731.3 L661.3,733.8 L661.3,736.4 L661.3,738.9 L661.3,741.4 L661.3,743.9 L661.3,746.5 L661.3,749.0 L661.4,751.6 L661.4,754.1 L661.4,756.6 L661.4,759.2 L661.5,761.7 L661.5,764.2 L661.5,766.8 L661.6,769.3 L661.6,771.8 L661.7,774.3 L661.7,776.8 L661.8,779.3 L661.8,781.8 L661.9,784.2 L661.9,786.7 L662.0,789.1 L662.1,791.5 L662.1,793.9 L662.2,796.3 L662.3,798.7 L662.3,800.9 L662.4,803.5 L662.5,806.2 L662.6,809.0 L662.8,811.7 L662.9,814.5 L663.0,817.2 L663.1,820.0 L663.3,822.7 L663.4,825.5 L663.6,828.3 L663.7,831.0 L663.9,833.8 L664.0,836.5 L664.2,839.2 L664.4,841.9 L664.5,844.6 L664.7,847.3 L664.8,849.9 L665.0,852.5 L665.2,855.1 L665.4,857.6 L665.5,860.1 L665.7,862.6 L665.9,865.0 L666.0,867.4 L666.2,869.8 L666.4,872.1 L666.5,874.3 L666.7,876.5 L666.8,878.7 L667.0,880.7 L667.0,881.1 L667.2,883.9 L667.5,886.7 L667.7,889.5 L668.0,892.1 L668.2,894.7 L668.5,897.3 L668.8,900.3 L668.9,901.2 L668.9,902.1 L669.2,905.1 L669.9,908.2 L671.3,919.1 L681.3,913.3 L683.5,912.0 L685.7,910.7 L687.9,909.5 L690.1,908.2 L692.3,906.9 L694.5,905.7 L696.8,904.4 L699.0,903.1 L701.2,901.9 L703.4,900.6 L705.6,899.3 L707.8,898.1 L710.0,896.8 L712.2,895.5 L714.4,894.2 L716.6,893.0 L718.8,891.7 L721.0,890.4 L723.2,889.2 L725.4,887.9 L727.6,886.6 L729.8,885.4 L732.0,884.1 L734.2,882.8 L736.4,881.6 L738.6,880.3 L740.8,879.0 L743.0,877.8 L745.2,876.5 L747.4,875.2 L749.6,874.0 L751.8,872.7 L754.0,871.4 L756.2,870.1 L758.4,868.9 L760.6,867.6 L762.8,866.3 L765.0,865.1 L767.2,863.8 L769.4,862.5 L771.6,861.3 L773.8,860.0 L776.1,858.8 L780.3,856.4 L781.7,852.0 L782.3,849.5 L783.0,847.1 L783.6,844.7 L784.3,842.3 L785.0,839.9 L785.6,837.4 L786.3,835.0 L786.9,832.6 L787.6,830.2 L788.2,827.8 L788.9,825.3 L789.6,822.9 L790.2,820.5 L790.9,818.1 L791.5,815.7 L792.2,813.3 L792.9,810.8 L793.5,808.4 L794.2,806.0 L794.8,803.6 L795.5,801.2 L796.1,798.7 L796.8,796.3 L797.5,793.9 L798.1,791.5 L798.8,789.1 L799.4,786.6 L800.1,784.2 L800.8,781.8 L801.4,779.4 L802.1,777.0 L802.7,774.5 L803.4,772.1 L804.1,769.7 L804.7,767.3 L805.4,764.9 L799.6,763.1 L798.8,765.5 L798.0,767.9 L797.2,770.3 L796.4,772.6 L795.6,775.0 L794.8,777.4 L794.0,779.8 L793.2,782.1 L792.4,784.5 L791.6,786.9 L790.8,789.3 L790.0,791.6 L789.2,794.0 L788.4,796.4 L787.6,798.8 L786.8,801.1 L786.0,803.5 L785.2,805.9 L784.4,808.3 L783.6,810.6 L782.8,813.0 L782.0,815.4 L781.2,817.8 L780.4,820.1 L779.6,822.5 L778.8,824.9 L778.0,827.3 L777.2,829.6 L776.4,832.0 L775.6,834.4 L774.8,836.8 L774.0,839.1 L773.2,841.5 L772.4,843.9 L771.6,846.3 L770.8,848.6 L770.7,849.0 L770.5,849.2 L768.4,850.5 L766.2,851.8 L764.0,853.1 L761.8,854.3 L759.6,855.6 L757.4,856.9 L755.2,858.2 L753.0,859.4 L750.8,860.7 L748.6,862.0 L746.4,863.3 L744.2,864.6 L742.0,865.8 L739.8,867.1 L737.6,868.4 L735.4,869.7 L733.2,870.9 L731.0,872.2 L728.8,873.5 L726.6,874.8 L724.4,876.1 L722.2,877.3 L720.0,878.6 L717.8,879.9 L715.6,881.2 L713.4,882.4 L711.2,883.7 L709.0,885.0 L706.8,886.3 L704.6,887.6 L702.4,888.8 L700.2,890.1 L698.0,891.4 L695.8,892.7 L693.6,894.0 L691.4,895.2 L689.3,896.5 L687.1,897.8 L684.9,899.1 L682.7,900.3 L680.5,901.6 L678.3,902.9 L676.1,904.2 L681.7,900.9 L682.6,906.9 L682.8,905.2 L682.7,903.6 L682.3,899.9 L681.9,896.2 L681.7,894.5 L681.5,892.4 L681.3,890.0 L681.1,887.6 L680.9,884.9 L680.6,882.1 L680.4,878.9 L680.1,875.4 L680.0,873.5 L679.8,871.5 L679.7,869.5 L679.5,867.4 L679.4,865.2 L679.2,863.0 L679.0,860.8 L678.9,858.5 L678.7,856.2 L678.6,853.8 L678.4,851.3 L678.2,848.9 L678.1,846.4 L677.9,843.9 L677.8,841.3 L677.6,838.8 L677.4,836.2 L677.3,833.6 L677.1,830.9 L677.0,828.3 L676.8,825.6 L676.7,823.0 L676.6,820.3 L676.4,817.7 L676.3,815.0 L676.2,812.3 L676.1,809.7 L676.0,807.0 L675.9,804.4 L675.8,801.8 L675.7,799.1 L675.6,796.6 L675.5,794.2 L675.4,791.7 L675.4,789.3 L675.3,786.8 L675.2,784.3 L675.2,781.8 L675.1,779.3 L675.1,776.8 L675.0,774.3 L675.0,771.7 L674.9,769.1 L674.9,766.6 L674.8,764.0 L674.8,761.4 L674.8,758.8 L674.7,756.2 L674.7,753.6 L674.7,751.0 L674.7,748.4 L674.6,745.8 L674.6,743.2 L674.6,740.6 L674.6,738.1 L674.6,735.5 L674.6,732.9 L674.6,730.3 L674.6,727.7 L674.5,725.2 L674.5,722.6 L674.5,720.1 L674.6,717.6 L674.6,715.1 L674.6,712.6 L674.6,710.1 L674.6,707.6 L674.6,705.2 L674.6,702.7 L674.6,700.3 L674.6,698.0 L674.7,695.5 L674.7,693.0 L674.7,690.5 L674.7,688.1 L674.8,685.6 L674.8,683.2 L674.8,680.7 L674.9,678.3 L674.9,675.9 L674.9,673.5 L675.0,671.1 L675.0,668.6 L675.1,666.2 L675.1,663.8 L675.2,661.4 L675.2,659.0 L675.3,656.6 L675.3,654.2 L675.4,651.8 L675.5,649.4 L675.6,647.0 L675.6,644.5 L675.7,642.1 L675.8,639.6 L675.9,637.1 L676.0,634.6 L676.1,632.1 L676.2,629.6 L676.3,627.0 L676.4,624.4 L676.5,621.8 L676.6,619.0 L676.8,616.3 L676.9,614.0 L677.0,611.6 L677.1,609.3 L677.2,606.9 L677.3,604.5 L677.5,602.1 L677.6,599.7 L677.7,597.3 L677.9,594.9 L678.0,592.5 L678.1,590.0 L678.3,587.6 L678.4,585.2 L678.6,582.7 L678.7,580.3 L678.9,577.8 L679.0,575.3 L679.2,572.8 L679.3,570.4 L679.5,567.9 L679.7,565.4 L679.8,562.9 L680.0,560.4 L680.2,557.8 L680.4,555.3 L680.6,552.8 L680.8,550.3 L680.9,547.7 L681.1,545.2 L681.3,542.6 L681.5,540.1 L681.8,537.5 L682.0,535.0 L682.2,532.4 L682.4,529.8 L682.6,527.2 L682.8,524.7 L683.1,522.1 L683.3,519.6 L683.5,517.3 L683.7,514.9 L684.0,512.4 L684.2,509.8 L684.4,507.3 L684.7,504.7 L685.0,502.1 L685.2,499.5 L685.5,496.8 L685.8,494.2 L686.1,491.5 L686.3,488.8 L686.6,486.1 L686.9,483.4 L687.2,480.6 L687.5,477.9 L687.8,475.2 L688.1,472.4 L688.4,469.7 L688.7,466.9 L689.1,464.2 L689.4,461.4 L689.7,458.7 L690.0,455.9 L690.3,453.2 L690.6,450.5 L691.0,447.7 L691.3,445.0 L691.6,442.3 L691.9,439.7 L692.2,437.0 L692.6,434.4 L692.9,431.7 L693.2,429.1 L693.5,426.5 L693.8,424.0 L694.1,421.5 L694.4,418.9 L694.8,416.5 L695.1,414.0 L695.4,411.6 L695.7,409.2 L696.0,406.8 L696.2,404.5 L696.5,402.1 L696.8,399.8 L697.1,397.6 L697.0,398.4 L697.3,396.3 L697.6,393.5 L698.0,390.7 L698.3,388.0 L698.7,385.4 L699.0,382.8 L699.4,380.2 L699.7,377.7 L700.1,375.3 L700.4,372.9 L700.7,370.5 L701.1,368.2 L701.4,365.8 L701.7,363.6 L702.1,361.3 L702.4,359.1 L702.7,356.9 L703.1,354.7 L703.4,352.5 L703.4,352.3 L704.0,348.7 L704.3,346.7 L705.2,341.2 L705.4,339.9 L705.7,337.7 L706.1,335.4 L706.5,333.0 L706.9,330.7 L707.3,328.5 L707.8,326.2 L708.4,323.8 L708.9,321.5 L709.6,318.9 L710.3,316.5 L710.9,314.0 L711.6,311.6 L712.4,309.2 L713.1,306.8 L713.9,304.4 L714.8,302.0 L715.7,299.6 L716.6,297.2 L717.5,294.9 L718.6,292.5 L719.6,290.2 L720.7,287.9 L721.8,285.7 L722.9,283.4 L724.1,281.2 L725.3,278.9 L726.6,276.7 L727.9,274.5 L729.2,272.3 L730.6,270.2 L732.0,268.0 L733.5,265.9 L735.1,263.8 L736.5,262.0 L738.0,260.2 L739.4,258.4 L741.0,256.6 L742.6,254.8 L744.2,253.0 L745.9,251.3 L747.6,249.5 L749.3,247.7 L751.1,246.0 L752.9,244.3 L754.7,242.6 L756.5,240.9 L758.4,239.2 L760.3,237.5 L762.2,235.9 L764.1,234.3 L765.9,232.9 L767.8,231.4 L769.7,230.0 L771.6,228.6 L773.5,227.2 L775.5,225.8 L777.5,224.4 L779.6,223.0 L781.7,221.7 L783.8,220.3 L785.9,219.0 L788.1,217.6 L790.3,216.3 L792.5,214.9 L794.8,213.5 L797.3,212.0 L800.3,210.2 L801.0,209.8 L803.5,208.3 L805.5,207.1 L807.6,205.9 L809.8,204.6 L812.0,203.4 L814.2,202.2 L816.4,200.9 L818.7,199.7 L821.0,198.5 L823.4,197.2 L825.9,195.9 L828.5,194.5 L831.7,192.9 L853.1,181.7 L832.2,192.6 L835.7,190.8 L838.4,189.3 L840.9,188.0 L843.4,186.7 L845.8,185.5 L848.1,184.2 L850.5,182.9 L852.7,181.7 L854.6,180.7 L856.7,179.5 L858.8,178.3 L860.9,177.1 L863.0,175.9 L865.1,174.7 L867.2,173.5 L869.2,172.4 L871.2,171.3 L873.1,170.2 L874.8,169.2 L876.3,168.3 L877.2,167.8 L876.3,168.3 L856.6,179.6 L902.5,153.3 L895.9,157.0 L895.9,157.1 L897.1,156.4 L898.7,155.5 L900.5,154.4 L902.4,153.3 L903.3,152.8 L905.3,151.7 L907.6,150.4 L909.9,149.1 L912.3,147.7 L914.6,146.4 L917.1,145.0 L919.5,143.6 L921.9,142.2 L924.4,140.8 L926.9,139.4 L929.3,137.9 L931.8,136.5 L934.3,135.1 L936.8,133.7 L939.2,132.3 L941.7,130.9 L944.1,129.5 L946.5,128.1 L948.8,126.8 L951.2,125.4 L953.5,124.1 L955.7,122.8 L957.9,121.6 L960.1,120.4 L962.2,119.2 L964.2,118.0 L966.2,116.9 L968.1,115.9 L970.0,114.8 L971.7,113.9 L973.4,113.0 L975.0,112.1 L976.5,111.3 L977.9,110.5 L981.1,108.9 L983.8,107.5 L986.2,106.3 L988.5,105.2 L990.8,104.1 L985.4,106.8 L985.4,100.0 L985.8,102.5 L985.9,105.1 L986.1,107.6 L986.2,110.1 L986.3,112.7 L986.4,115.2 L986.5,117.7 L986.6,120.3 L986.7,122.8 L986.8,125.3 L987.0,127.9 L987.1,130.4 L987.2,133.0 L987.3,135.5 L987.4,138.0 L987.5,140.6 L987.6,143.1 L987.8,145.6 L987.9,148.1 L988.0,150.7 L988.1,153.2 L988.2,155.7 L988.3,158.2 L988.4,160.7 L988.5,163.1 L988.6,165.6 L988.8,168.1 L988.9,170.5 L989.0,173.0 L989.1,175.4 L989.2,177.8 L989.3,180.2 L989.4,182.8 L989.5,185.4 L989.7,188.0 L989.8,190.5 L989.9,193.1 L990.0,195.6 L990.1,198.1 L990.2,200.7 L990.3,203.2 L990.5,205.7 L990.6,208.2 L990.7,210.6 L990.8,213.1 L990.9,215.6 L991.0,218.1 L991.1,220.5 L991.3,223.0 L991.4,225.5 L991.5,227.9 L991.6,230.4 L991.7,232.9 L991.8,235.3 L991.9,237.8 L992.0,240.3 L992.2,242.8 L992.3,245.2 L992.4,247.7 L992.5,250.2 Z" fill="#0a0a0a" stroke="#0a0a0a" stroke-width="0.6"/><path d="M1127.5,165.8 C1131.5,162.3 1135,161.8 1136,166.5 L1147.3,400 L1155.3,598 C1143.5,606.7 1132.1,612.3 1120,620 C1106.4,628.7 1092,638 1078,650 C1061.6,664 1043.2,682.7 1028.7,700 C1015.2,716.1 1003.7,733 993.3,750 C983.3,766.3 975,783.1 967.3,800 C959.7,816.5 953.7,833.3 947.3,850 C940.9,866.6 933.4,886.3 928.7,900 C925.4,909.4 923.6,916 921,924 L817,982 C815,950.7 813,916.8 811,888 C809.3,863.5 806.8,842.7 806,820 C805.2,797.3 805.6,773.1 806,752 C806.4,733.5 806.9,719.2 808,700 C809.4,676.2 811.5,648.1 814,620 C816.8,588.5 820.6,549.1 824,520 C826.6,497.4 829.2,480.1 832,460 C834.8,439.7 837.9,416.2 841,399 C843.3,386.3 844.8,375.7 848,366 C850.7,357.8 854.8,350.6 858,344 C860.7,338.5 862.7,333.9 866,329 C869.6,323.6 874.1,317.9 879,313 C884.1,307.9 890.4,303.2 896,299 C901.1,295.2 905.5,292.3 911,289 C917.3,285.3 924.5,282 932,278 C940.7,273.3 950.7,267.7 960,262.5 Z" fill="#89d49a" stroke="#fff" stroke-width="6" stroke-linejoin="round"/><path d="M1127.5,165.8 C1131.5,162.3 1135,161.8 1136,166.5 L1147.3,400 L1155.3,598 C1143.5,606.7 1132.1,612.3 1120,620 C1106.4,628.7 1092,638 1078,650 C1061.6,664 1043.2,682.7 1028.7,700 C1015.2,716.1 1003.7,733 993.3,750 C983.3,766.3 975,783.1 967.3,800 C959.7,816.5 953.7,833.3 947.3,850 C940.9,866.6 933.4,886.3 928.7,900 C925.4,909.4 923.6,916 921,924 L817,982 C815,950.7 813,916.8 811,888 C809.3,863.5 806.8,842.7 806,820 C805.2,797.3 805.6,773.1 806,752 C806.4,733.5 806.9,719.2 808,700 C809.4,676.2 811.5,648.1 814,620 C816.8,588.5 820.6,549.1 824,520 C826.6,497.4 829.2,480.1 832,460 C834.8,439.7 837.9,416.2 841,399 C843.3,386.3 844.8,375.7 848,366 C850.7,357.8 854.8,350.6 858,344 C860.7,338.5 862.7,333.9 866,329 C869.6,323.6 874.1,317.9 879,313 C884.1,307.9 890.4,303.2 896,299 C901.1,295.2 905.5,292.3 911,289 C917.3,285.3 924.5,282 932,278 C940.7,273.3 950.7,267.7 960,262.5 Z" fill="#89d49a" stroke="#111" stroke-width="2.4" stroke-linejoin="round"/><ellipse cx="1095.8" cy="237.9" rx="2.9" ry="5.4" transform="rotate(30 1095.8 237.9)" fill="#fff" stroke="#111" stroke-width="2.3"/><ellipse cx="1117.4" cy="225.3" rx="2.9" ry="5.4" transform="rotate(30 1117.4 225.3)" fill="#fff" stroke="#111" stroke-width="2.3"/><ellipse cx="1028.6" cy="559.8" rx="10.8" ry="19.8" transform="rotate(24 1028.6 559.8)" fill="#fff" stroke="#111" stroke-width="2.3"/><ellipse cx="1110" cy="573" rx="3.0" ry="5.6" transform="rotate(30 1110 573)" fill="#fff" stroke="#111" stroke-width="2.3"/><ellipse cx="1132" cy="560.6" rx="3.0" ry="5.6" transform="rotate(30 1132 560.6)" fill="#fff" stroke="#111" stroke-width="2.3"/><ellipse cx="838.8" cy="730" rx="3.9" ry="8.2" transform="rotate(22 838.8 730)" fill="#fff" stroke="#111" stroke-width="2.3"/><circle cx="446.25" cy="374.3" r="112.3" fill="none" stroke="#b0b0b0" stroke-width="1.5"/><line x1="503.5" y1="471.5" x2="570" y2="586" stroke="#a0a0a0" stroke-width="1.4"/><path d="M429.2,321.4 L429.2,302.2 C430,298 433,295 437,293 C443,290 448,288 452,287.8 C458,287.6 466,289.5 473,291.4 L493,297.2 L505,302 L517,308 C521,310 525,313 527.8,316.4 C529,319 529.2,322 529,325 L527.8,391 C527,394 526,396 524.2,397 C523,398.5 522,399.6 521.3,399.6 C520,399.6 519.4,399.2 518.7,398.8 L516,397.2" fill="none" stroke="#111" stroke-width="2.1" stroke-linejoin="round" stroke-linecap="round"/><path d="M429.2,321.4 C430,323 431,324 432.2,324.4 L444.8,329.2 C446.5,329 447.2,328.4 447.2,327.4 L447.8,322 C448,321 449,320.5 450.2,320.5 L474.5,331" fill="none" stroke="#111" stroke-width="2.1" stroke-linejoin="round" stroke-linecap="round"/><path d="M456.2,301.6 L467,307 L477,311.5 L487,317 L497.8,323.6 L502,323.6 C506,322 508,320 508.6,318.8 L511,315.2 C513,313.5 515,312.8 517,312.8 L523,311.6" fill="none" stroke="#111" stroke-width="2.1" stroke-linejoin="round" stroke-linecap="round"/><path d="M456.2,301.6 C458,299.5 459.5,298.3 461,298 L467,297.4" fill="none" stroke="#111" stroke-width="2.1" stroke-linejoin="round" stroke-linecap="round"/><path d="M474.5,321 C475.5,318.5 477,317.5 479,317.5 L485.5,319.5 L487,326 L487,364 C487,365.5 486,366.3 484.6,366.3 L476,364.4 C474,364 472.4,362 472.4,360 L473,343 L474.5,321" fill="none" stroke="#111" stroke-width="2.1" stroke-linejoin="round" stroke-linecap="round"/><path d="M487,326 C488,323 489.5,321.2 490.6,321.2 C493,321.5 494.5,322 495.4,322.4 C494,324 493.2,325.5 493,327.2 L491.8,338 L487,338" fill="none" stroke="#111" stroke-width="2.1" stroke-linejoin="round" stroke-linecap="round"/><path d="M438.2,329.2 L429.8,337 L428.6,340" fill="none" stroke="#111" stroke-width="2.1" stroke-linejoin="round" stroke-linecap="round"/><path d="M429.2,339.2 L444.8,347 C446,347.5 447.2,348 447.2,349.4 L447.2,389 L447.8,390.2 L431,381.8 C429.5,381.2 428.5,380 428,378.2 L428.6,341" fill="none" stroke="#111" stroke-width="2.1" stroke-linejoin="round" stroke-linecap="round"/><path d="M447.8,374.6 C451,373 454,371.5 455,369.8 C456,368 456.2,366 456.2,364.4 L479,369.8 C481,370.5 482,370.5 482.8,371.2 C484,372.5 484,374 484,374.8 C484,376 483,376.8 482.2,377.2" fill="none" stroke="#111" stroke-width="2.1" stroke-linejoin="round" stroke-linecap="round"/><path d="M479.2,377.5 C475,379 471,381 470.7,382.3 C469.5,384.5 469.5,387 470.1,388.7 C471,391 472,392.5 473.9,393.5 L497.3,404.1 C499,404.5 501,404.5 502.7,404.1 L516,397.2 L517.6,395.6 L479.2,377.5" fill="none" stroke="#111" stroke-width="2.1" stroke-linejoin="round" stroke-linecap="round"/><ellipse cx="479.7" cy="387.9" rx="3.4" ry="1.4" fill="#111"/><path d="M435.8,298.6 L455,305.2 M486.7,374.8 L524,387 M463,300.5 L518,311 M466,303.5 L513,314.5 M470,306.5 L508,317.5" fill="none" stroke="#9a9a9a" stroke-width="1" stroke-dasharray="2.2 1.4"/><path d="M361.5,356.5 L382,347.5 L390,352 L390,359.5 L401,367.5" fill="none" stroke="#111" stroke-width="2.1" stroke-linejoin="round" stroke-linecap="round"/><path d="M361.5,356.5 L361,375 C361.5,377 362.5,378 363.5,378 L376,383" fill="none" stroke="#111" stroke-width="2.1" stroke-linejoin="round" stroke-linecap="round"/><path d="M363,359.5 L389,373.5" fill="none" stroke="#111" stroke-width="2.1" stroke-linejoin="round" stroke-linecap="round"/><path d="M379,355 C381,357.5 384,359 390,360" fill="none" stroke="#111" stroke-width="2.1" stroke-linejoin="round" stroke-linecap="round"/><path d="M401,367.5 L400.7,428.1 L388,435.25" fill="none" stroke="#111" stroke-width="2.1" stroke-linejoin="round" stroke-linecap="round"/><path d="M361,385.75 L361,420.4 C361,422 362,423 363.25,423.2 L386.9,435.25" fill="none" stroke="#111" stroke-width="2.1" stroke-linejoin="round" stroke-linecap="round"/><path d="M361,385.75 L367.1,386.3 C368,384.5 369.5,384 371.5,384.1 C374,384 376,385 377,386.3 C378,387.5 378.3,389 378.1,390.2" fill="none" stroke="#111" stroke-width="2.1" stroke-linejoin="round" stroke-linecap="round"/><path d="M367.1,386.3 L378.1,390.2" fill="none" stroke="#111" stroke-width="2.1" stroke-linejoin="round" stroke-linecap="round"/><path d="M401,368 C402,366 403.5,364 405,363 C408,361 410.5,360.3 412.5,360.5 C414.5,361 416,362.5 416.5,364 C417,367 416.8,370 416,373 C414.5,377.5 412.5,381 410,384 C408,386 405.5,388 402.5,389" fill="none" stroke="#111" stroke-width="2.1" stroke-linejoin="round" stroke-linecap="round"/><path d="M401.2,406.1 L408.9,402.25 C410,402 411,403.5 411.7,405 L413.3,415.45 L401.75,420.4" fill="none" stroke="#111" stroke-width="2.1" stroke-linejoin="round" stroke-linecap="round"/><path d="M389,373.5 L388,435.25" stroke="#111" stroke-width="2.4" fill="none"/><path d="M389,373.5 L401,367.5" stroke="#aaa" stroke-width="1" fill="none"/><path d="M369.3,367.5 C368.3,370 368.3,375 369.5,378 M374.5,372.8 C378.5,372.5 381.5,374.5 382,378.5 C382.2,381.5 381,383.5 379.5,384.3 M376,376.5 C378,376.8 378.8,378.5 378.3,380.5 M367.6,393.5 C366.3,396 366.3,399.5 367.4,401.7 M372,397.3 C375.5,396.5 378.5,399 378.8,403 C379,406 378,408.5 376.5,409.4 M373.8,401 C375.8,401.5 376.3,403.5 375.8,405.5 M377.6,394.5 L382,406 L384.8,397.5 M381.4,390.7 L383.8,392 M374.8,418.4 C378,418 381.5,417.5 384.7,416" fill="none" stroke="#1a1a1a" stroke-width="2.2" stroke-linecap="round"/><path d="M404.5,384 C407,380 411,373 413.5,366" fill="none" stroke="#aaa" stroke-width="1"/><g fill="none" stroke="#151515" stroke-width="2" stroke-linecap="round" stroke-linejoin="round"><path d="M731.8,69.8 L735,66.3 L735,78 M742.3,69.8 L745,66.6 L745,78"/><path d="M1048.2,159.6 L1051.3,155.9 L1051.3,167.5 M1057.2,158.9 C1057.6,156.5 1059.2,155.4 1061.2,155.4 C1063.4,155.4 1065,156.8 1065,158.9 C1065,161 1063.5,162.3 1061.5,163.6 C1059.5,164.9 1057.7,166 1057.4,167.3 L1065.4,167.3"/><path d="M1048.4,768.8 L1051.3,765.6 L1051.1,777.8 M1057.4,768.2 C1057.8,766.3 1059.4,765.2 1061.2,765.2 C1063.2,765.2 1064.6,766.5 1064.6,768.3 C1064.6,770 1063.2,771 1061.3,771 C1063.5,771 1065.2,772.3 1065.2,774.4 C1065.2,776.6 1063.5,778.1 1061.2,778.1 C1059.2,778.1 1057.7,777 1057.3,775"/><ellipse cx="355.9" cy="336.5" rx="4.1" ry="4"/><path d="M360,336.5 L359.8,341.2 C359.5,343.3 357.8,344.3 355.8,344.3 C353.8,344.3 352.5,343.5 352.1,342.2"/><path d="M450.2,400.6 L453.2,399 L453.3,409"/><ellipse cx="463.5" cy="403.1" rx="4.2" ry="6.2"/></g><g stroke="#a4a4a4" stroke-width="1.5" fill="none" stroke-linecap="round"><path d="M743.5,86.3 L768.3,116.9"/><path d="M1005,169 L1021,166 L1041,164"/><path d="M1020,721 L1050.5,758"/></g></svg></body></html>
